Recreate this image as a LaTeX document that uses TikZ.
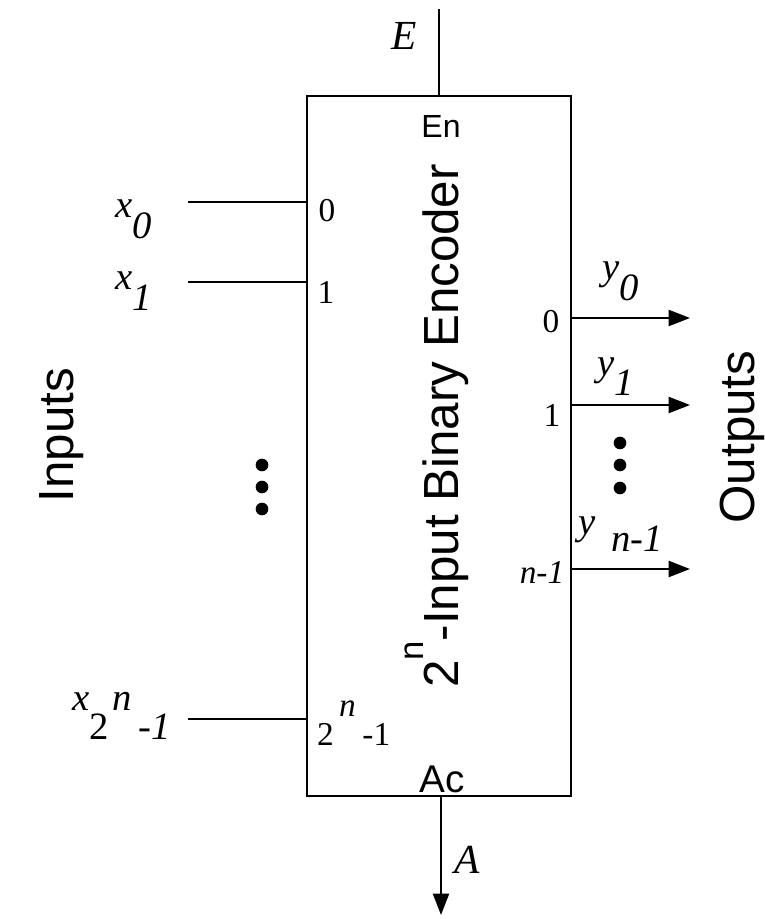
\documentclass[tikz,border=0pt]{standalone}
\usepackage{fontspec}
\setmainfont{Liberation Serif}
\setsansfont{Liberation Sans}
\usetikzlibrary{arrows.meta}

\newcommand{\fsz}[1]{\fontsize{#1}{#1}\selectfont}
\newcommand{\sigsub}[2][0.52em]{\raisebox{-#1}{#2}}

\begin{document}
\begin{tikzpicture}[x=0.75pt, y=-0.75pt, line width=1.6pt, >={Triangle[length=16pt, width=12pt]},
	sig/.style={font=\itshape\fsz{29}, inner sep=0pt},
	pin/.style={font=\fsz{25}, inner sep=0pt},
	big/.style={font=\sffamily\fsz{37}, rotate=90, inner sep=0pt},
	dot/.style={circle, fill, inner sep=0pt, minimum size=9.5pt}]
	\useasboundingbox (0,0) rectangle (764,919);
	% encoder block
	\node[draw, line width=2pt, minimum width=198pt, minimum height=525pt] (enc) at (439,446) {};
	\node[big] (title) at (437,426) {2\raisebox{0.72em}{\fsz{26}n}-Input Binary Encoder};
	\node[font=\sffamily\fsz{24}, inner sep=0pt] (en) at (441,126) {En};
	\node[font=\sffamily\fsz{29}, inner sep=0pt, anchor=base] (ac) at (442,792) {Ac};
	% enable and active
	\coordinate (ein) at (439,9);
	\coordinate (aout) at (441,915);
	\draw (ein) -- (ein |- enc.north);
	\draw[->] (aout |- enc.south) -- (aout);
	\node[sig, font=\itshape\fsz{31}] (e) at (404,36) {E};
	\node[sig, font=\itshape\fsz{31}] (a) at (467,860) {A};
	% inputs
	\foreach \n/\yy in {0/202,1/282,m/719} {
		\coordinate (in\n) at (188,\yy);
		\draw (in\n) -- (enc.west |- in\n);
	}
	\node[sig, anchor=base west] (x0) at (114,218) {x\sigsub{0}};
	\node[sig, anchor=base west] (x1) at (114,290) {x\sigsub{1}};
	\node[sig, anchor=base west] (xm) at (71,710) {x\sigsub[0.75em]{\upshape 2}\hspace{3pt}n\hspace{5pt}\sigsub[0.75em]{-1}};
	\node[pin] (p0) at (327,211) {0};
	\node[pin] (p1) at (326,292) {1};
	\node[pin, anchor=base west] (pm) at (316,745) {2\hspace{4pt}\raisebox{0.85em}{\itshape n}\hspace{5pt}-1};
	\foreach \k/\yy in {1/465,2/487,3/509} {\node[dot] (ld\k) at (262,\yy) {};}
	% outputs
	\foreach \n/\yy in {0/318,1/405,m/569} {
		\coordinate (out\n) at (690,\yy);
		\draw[->] (enc.east |- out\n) -- (out\n);
	}
	\node[sig, anchor=base west] (y0) at (601,280) {y\sigsub{0}};
	\node[sig, anchor=base west] (y1) at (596,375) {y\sigsub{1}};
	\node[sig, anchor=base west] (ym) at (577,534) {y\hspace{12pt}\sigsub[0.45em]{n-1}};
	\node[pin] (q0) at (551,322) {0};
	\node[pin] (q1) at (552,415) {1};
	\node[pin, font=\itshape\fsz{25}, anchor=base] (qm) at (542,583) {n-1};
	\foreach \k/\yy in {1/443,2/465,3/488} {\node[dot] (rd\k) at (620,\yy) {};}
	% side labels
	\node[big] (inputs) at (62,435) {Inputs};
	\node[big] (outputs) at (742,437) {Outputs};
\end{tikzpicture}
\end{document}
